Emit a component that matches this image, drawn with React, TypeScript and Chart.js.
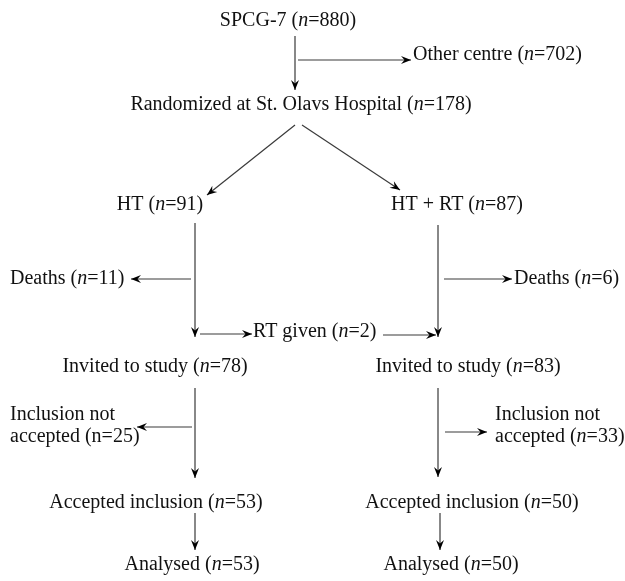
import React, { useEffect, useRef } from "react";
import { Chart, registerables } from "chart.js";

Chart.register(...registerables);

// Flowchart boxes (text, with *n* = italic n) and their positions in diagram units
const nodeLabels = [
  "SPCG-7 (*n*=880)",
  "Other centre (*n*=702)",
  "Randomized at St. Olavs Hospital (*n*=178)",
  "HT (*n*=91)",
  "HT + RT (*n*=87)",
  "Deaths (*n*=11)",
  "Deaths (*n*=6)",
  "RT given (*n*=2)",
  "Invited to study (*n*=78)",
  "Invited to study (*n*=83)",
  "Inclusion not\naccepted (n=25)",
  "Inclusion not\naccepted (*n*=33)",
  "Accepted inclusion (*n*=53)",
  "Accepted inclusion (*n*=50)",
  "Analysed (*n*=53)",
  "Analysed (*n*=50)",
];
const nodeX = [288, 413, 301, 160, 457, 10, 514, 253, 155, 468, 10, 495, 156, 472, 192, 451];
const nodeY = [21, 55, 105, 205, 205, 279, 279, 332, 367, 367, 415, 415, 503, 503, 565, 565];
const nodeAnchor = ["c", "l", "c", "c", "c", "l", "l", "l", "c", "c", "l", "l", "c", "c", "c", "c"];

// Arrows: from (x1,y1) to (x2,y2), arrowhead at the end
const arrowX1 = [295, 298, 295, 302, 195, 438, 191, 444, 200, 383, 195, 438, 192, 445, 195, 440];
const arrowY1 = [36, 60, 125, 125, 223, 225, 279, 279, 334, 335, 388, 388, 427, 432, 513, 513];
const arrowX2 = [295, 411, 207, 400, 195, 438, 131, 512, 252, 436, 195, 438, 137, 487, 195, 440];
const arrowY2 = [90, 60, 195, 190, 337, 337, 279, 279, 334, 335, 478, 477, 427, 432, 550, 550];

const W = 625;
const H = 581;
const FONT = "Liberation Serif";
const FONT_SIZE = 20;
const LINE_H = 22;

function drawRich(ctx: CanvasRenderingContext2D, text: string, x: number, y: number, anchor: string) {
  const parts = text.split("*");
  const segs = parts.map((p, i) => ({ t: p, it: i % 2 === 1 }));
  let total = 0;
  const widths = segs.map((s) => {
    ctx.font = `${s.it ? "italic " : ""}${FONT_SIZE}px "${FONT}"`;
    const w = ctx.measureText(s.t).width;
    total += w;
    return w;
  });
  let cx = anchor === "c" ? x - total / 2 : x;
  segs.forEach((s, i) => {
    ctx.font = `${s.it ? "italic " : ""}${FONT_SIZE}px "${FONT}"`;
    ctx.fillText(s.t, cx, y);
    cx += widths[i];
  });
}

const flowPlugin = {
  id: "flowPlugin",
  afterDatasetsDraw(chart: any) {
    const ctx: CanvasRenderingContext2D = chart.ctx;
    const xs = chart.scales.x;
    const ys = chart.scales.y;
    ctx.save();
    // arrowheads
    ctx.fillStyle = "#000";
    for (let i = 0; i < arrowX1.length; i++) {
      const x1 = xs.getPixelForValue(arrowX1[i]);
      const y1 = ys.getPixelForValue(arrowY1[i]);
      const x2 = xs.getPixelForValue(arrowX2[i]);
      const y2 = ys.getPixelForValue(arrowY2[i]);
      const a = Math.atan2(y2 - y1, x2 - x1);
      const L = 10;
      const hw = 4;
      const bx = x2 - L * Math.cos(a);
      const by = y2 - L * Math.sin(a);
      const ix = x2 - L * 0.65 * Math.cos(a);
      const iy = y2 - L * 0.65 * Math.sin(a);
      ctx.beginPath();
      ctx.moveTo(x2, y2);
      ctx.lineTo(bx + hw * Math.sin(a), by - hw * Math.cos(a));
      ctx.lineTo(ix, iy);
      ctx.lineTo(bx - hw * Math.sin(a), by + hw * Math.cos(a));
      ctx.closePath();
      ctx.fill();
    }
    // labels
    ctx.fillStyle = "#111";
    ctx.textBaseline = "middle";
    ctx.textAlign = "left";
    for (let i = 0; i < nodeLabels.length; i++) {
      const lines = nodeLabels[i].split("\n");
      const px = xs.getPixelForValue(nodeX[i]);
      const py = ys.getPixelForValue(nodeY[i]);
      lines.forEach((ln, j) => {
        drawRich(ctx, ln, px, py + j * LINE_H, nodeAnchor[i]);
      });
    }
    ctx.restore();
  },
};

export default function App() {
  const ref = useRef<HTMLCanvasElement | null>(null);
  useEffect(() => {
    document.body.style.margin = "0";
    document.body.style.background = "#fff";
    const canvas = ref.current;
    if (!canvas) return;
    const datasets = arrowX1.map((_, i) => ({
      type: "line" as const,
      data: [
        { x: arrowX1[i], y: arrowY1[i] },
        { x: arrowX2[i], y: arrowY2[i] },
      ],
      borderColor: "#3a3a3a",
      borderWidth: 1.2,
      pointRadius: 0,
      showLine: true,
      fill: false,
    }));
    const chart = new Chart(canvas, {
      type: "scatter",
      data: { datasets },
      options: {
        animation: false,
        responsive: false,
        maintainAspectRatio: false,
        layout: { padding: 0 },
        events: [],
        plugins: { legend: { display: false }, tooltip: { enabled: false } },
        scales: {
          x: { type: "linear", min: 0, max: W, display: false },
          y: { type: "linear", min: 0, max: H, reverse: true, display: false },
        },
      },
      plugins: [flowPlugin],
    });
    return () => chart.destroy();
  }, []);
  return (
    <div style={{ width: W, height: H, background: "#fff" }}>
      <canvas ref={ref} width={W} height={H} style={{ display: "block", width: W, height: H }} />
    </div>
  );
}
